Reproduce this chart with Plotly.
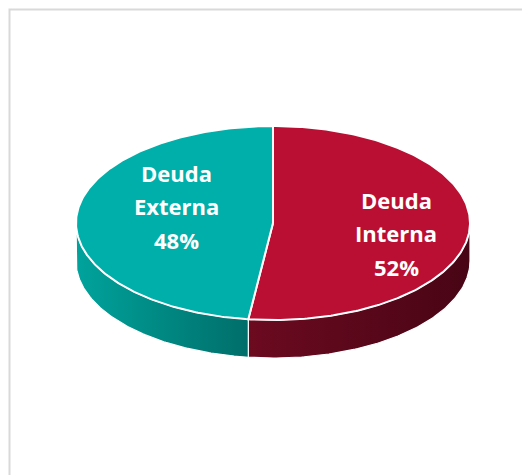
import numpy as np
import plotly.graph_objects as go

# ---- data ----
categories = ["Deuda Interna", "Deuda Externa"]
shares = [52, 48]
label_lines = [["Deuda", "Interna"], ["Deuda", "Externa"]]

# ---- style ----
top_colors = ["#BA0F33", "#00AFAA"]
side_scales = [
    [[0, "#6C0A20"], [1, "#480515"]],
    [[0, "#00A39C"], [1, "#006E6A"]],
]
label_pos = [(396, 233), (176, 206)]   # label centres (px)
line_gap = 33.5

W, H = 530, 475
OFF = 8  # page body margin
CX, CY, RX, RY, DEPTH = 273, 223, 197, 97, 38


def pt(theta_deg, dy=0.0):
    t = np.radians(theta_deg)
    return CX + RX * np.sin(t), CY - RY * np.cos(t) + dy


fig = go.Figure()
total = float(sum(shares))
bounds = []
start = 0.0
for v in shares:
    end = start + 360.0 * v / total
    bounds.append((start, end))
    start = end

# side walls (front half only)
for i, (a, b) in enumerate(bounds):
    lo, hi = max(a, 90.0), min(b, 270.0)
    if lo < hi:
        th = np.linspace(lo, hi, 120)
        xt, yt = pt(th)
        xb, yb = pt(th[::-1], DEPTH)
        xs = np.concatenate([xt, xb, xt[:1]])
        ys = np.concatenate([yt, yb, yt[:1]])
        fig.add_trace(go.Scatter(
            x=xs, y=ys, mode="lines", fill="toself",
            fillgradient=dict(type="horizontal", colorscale=side_scales[i]),
            line=dict(color="white", width=1.2),
            hoverinfo="skip", showlegend=False, name=categories[i]))

# top faces
for i, (a, b) in enumerate(bounds):
    th = np.linspace(a, b, 240)
    xa, ya = pt(th)
    xs = np.concatenate([[CX], xa, [CX]])
    ys = np.concatenate([[CY], ya, [CY]])
    fig.add_trace(go.Scatter(
        x=xs, y=ys, mode="lines", fill="toself",
        fillcolor=top_colors[i],
        line=dict(color="white", width=2),
        hoverinfo="skip", showlegend=False, name=categories[i]))

# labels
for i, cat in enumerate(categories):
    lines = label_lines[i] + [f"{shares[i]}%"]
    lx, ly = label_pos[i]
    n = len(lines)
    for k, txt in enumerate(lines):
        fig.add_annotation(
            x=lx, y=ly + (k - (n - 1) / 2) * line_gap, text=txt,
            showarrow=False, xanchor="center", yanchor="middle",
            font=dict(family="Open Sans", size=22, color="white", weight="bold"))

# chart-area border (top and left visible)
fig.add_shape(type="rect", x0=9.5, y0=9.5, x1=W + 20, y1=H + 20,
              line=dict(color="#D9D9D9", width=2), layer="below")

fig.update_layout(
    width=W - OFF, height=H - OFF, margin=dict(l=0, r=0, t=0, b=0),
    paper_bgcolor="white", plot_bgcolor="white",
    xaxis=dict(range=[OFF, W], visible=False, fixedrange=True),
    yaxis=dict(range=[H, OFF], visible=False, fixedrange=True),
    showlegend=False,
)

fig.write_html("out.html")
